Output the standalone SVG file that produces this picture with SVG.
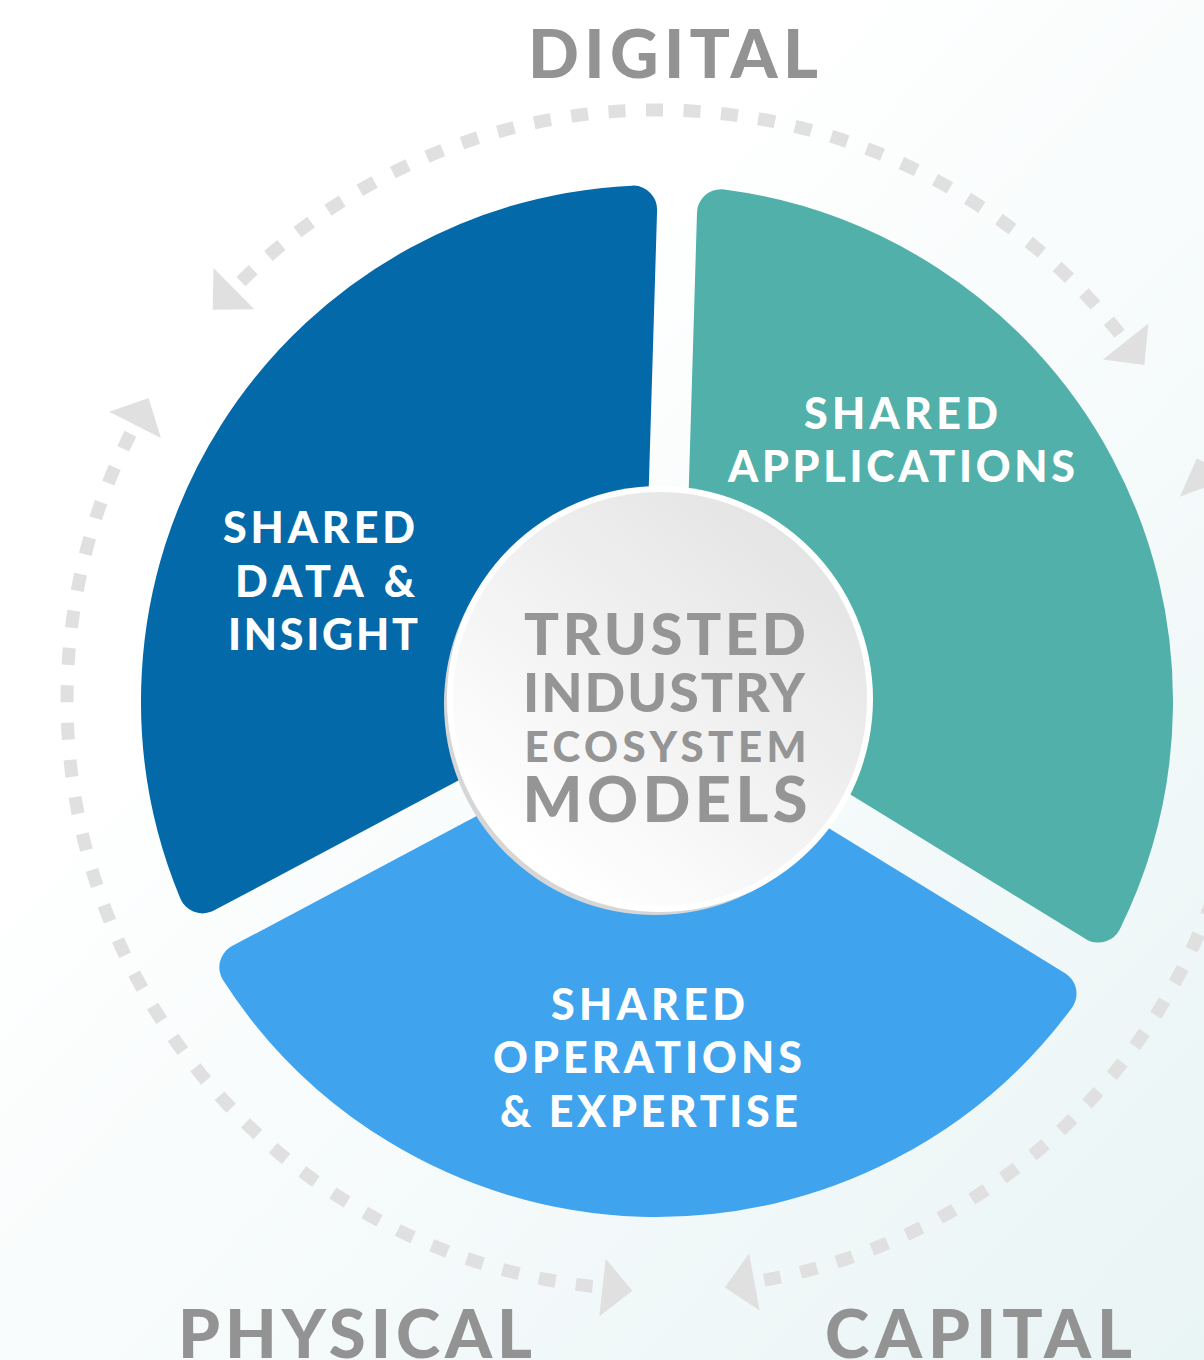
<svg xmlns="http://www.w3.org/2000/svg" width="1204" height="1360" viewBox="0 0 1204 1360">
<style>
.bg{fill:url(#bgGrad)}
.ring{fill:none;stroke:#e0e0e0;stroke-width:13;stroke-linecap:butt}
.sec{stroke-width:48;stroke-linejoin:round}
.lbl{font-family:Lato,"Open Sans","Liberation Sans",sans-serif;font-weight:900;fill:#ffffff;font-size:43px}
.big{font-family:Lato,"Open Sans","Liberation Sans",sans-serif;font-weight:900;fill:#939393;font-size:67px}
.ctr{font-family:Lato,"Open Sans","Liberation Sans",sans-serif;font-weight:900;fill:#959595}
</style>
<defs>
<linearGradient id="bgGrad" x1="0.35" y1="0.3" x2="1" y2="1">
<stop offset="0" stop-color="#ffffff"/>
<stop offset="1" stop-color="#e9f4f5"/>
</linearGradient>
<linearGradient id="ctrGrad" x1="0.85" y1="0.1" x2="0.2" y2="0.9">
<stop offset="0" stop-color="#e4e4e4"/>
<stop offset="1" stop-color="#ffffff"/>
</linearGradient>
<marker id="arrow" markerUnits="userSpaceOnUse" viewBox="0 -30 42 60" markerWidth="42" markerHeight="60" refX="0" refY="0" orient="auto-start-reverse" overflow="visible">
<path d="M10 -29 L40 0 L10 29 Z" fill="#e0e0e0"/>
</marker>
</defs>
<rect class="bg" x="0" y="0" width="1204" height="1360"/>
<g id="connectors">
<path id="arc-top" class="ring" d="M241.04 281.57 A590 590 0 0 1 1119.48 333.67" stroke-dasharray="17 20.55" marker-start="url(#arrow)" marker-end="url(#arrow)"/>
<path id="arc-right" class="ring" d="M1210.61 495.98 A590 590 0 0 1 764.21 1280.18" stroke-dasharray="17 20.42" marker-start="url(#arrow)" marker-end="url(#arrow)"/>
<path id="arc-left" class="ring" d="M592.57 1286.47 A590 590 0 0 1 130.51 433.74" stroke-dasharray="17 20.38" marker-start="url(#arrow)" marker-end="url(#arrow)"/>
</g>
<g id="shared-data-insight">
<path class="sec" fill="#0369a9" stroke="#0369a9" d="M622.6 558.6 L633.1 209.6 A492 492 0 0 0 202.5 889.4 L506.7 727.6 Z"/>
<text class="lbl" x="223" y="543" textLength="192" lengthAdjust="spacing">SHARED</text>
<text class="lbl" x="235" y="597" textLength="180" lengthAdjust="spacing">DATA &amp;</text>
<text class="lbl" x="228" y="650" textLength="190" lengthAdjust="spacing">INSIGHT</text>
</g>
<g id="shared-applications">
<path class="sec" fill="#51b1aa" stroke="#51b1aa" d="M710.6 561.3 L721.0 213.2 A492 492 0 0 1 1098.3 918.6 L806.6 739.4 Z"/>
<text class="lbl" x="804" y="429" textLength="194" lengthAdjust="spacing">SHARED</text>
<text class="lbl" x="728" y="482" textLength="347" lengthAdjust="spacing">APPLICATIONS</text>
</g>
<g id="shared-operations-expertise">
<path class="sec" fill="#40a3ed" stroke="#40a3ed" d="M760.5 814.4 L1052.5 993.7 A492 492 0 0 1 243.3 967.3 L548.0 805.3 Z"/>
<text class="lbl" x="551" y="1020" textLength="194" lengthAdjust="spacing">SHARED</text>
<text class="lbl" x="493" y="1073" textLength="309" lengthAdjust="spacing">OPERATIONS</text>
<text class="lbl" x="500" y="1127" textLength="298" lengthAdjust="spacing">&amp; EXPERTISE</text>
</g>
<g id="trusted-industry-ecosystem-models">
<circle cx="655" cy="704" r="211" fill="#d6d6d6"/>
<circle cx="660" cy="699" r="213" fill="#ffffff"/>
<circle cx="660" cy="699" r="207" fill="url(#ctrGrad)"/>
<text class="ctr" x="524" y="655" font-size="58" textLength="282" lengthAdjust="spacing">TRUSTED</text>
<text class="ctr" x="523" y="711.7" font-size="53.5" textLength="282" lengthAdjust="spacing">INDUSTRY</text>
<text class="ctr" x="524.5" y="761.7" font-size="42" textLength="282" lengthAdjust="spacing">ECOSYSTEM</text>
<text class="ctr" x="522.5" y="821.7" font-size="63" textLength="285" lengthAdjust="spacing">MODELS</text>
</g>
<g id="digital">
<text class="big" x="528" y="78" textLength="290" lengthAdjust="spacing">DIGITAL</text>
</g>
<g id="physical">
<text class="big" x="178" y="1358" textLength="354" lengthAdjust="spacing">PHYSICAL</text>
</g>
<g id="capital">
<text class="big" x="825" y="1358" textLength="307" lengthAdjust="spacing">CAPITAL</text>
</g>
</svg>
